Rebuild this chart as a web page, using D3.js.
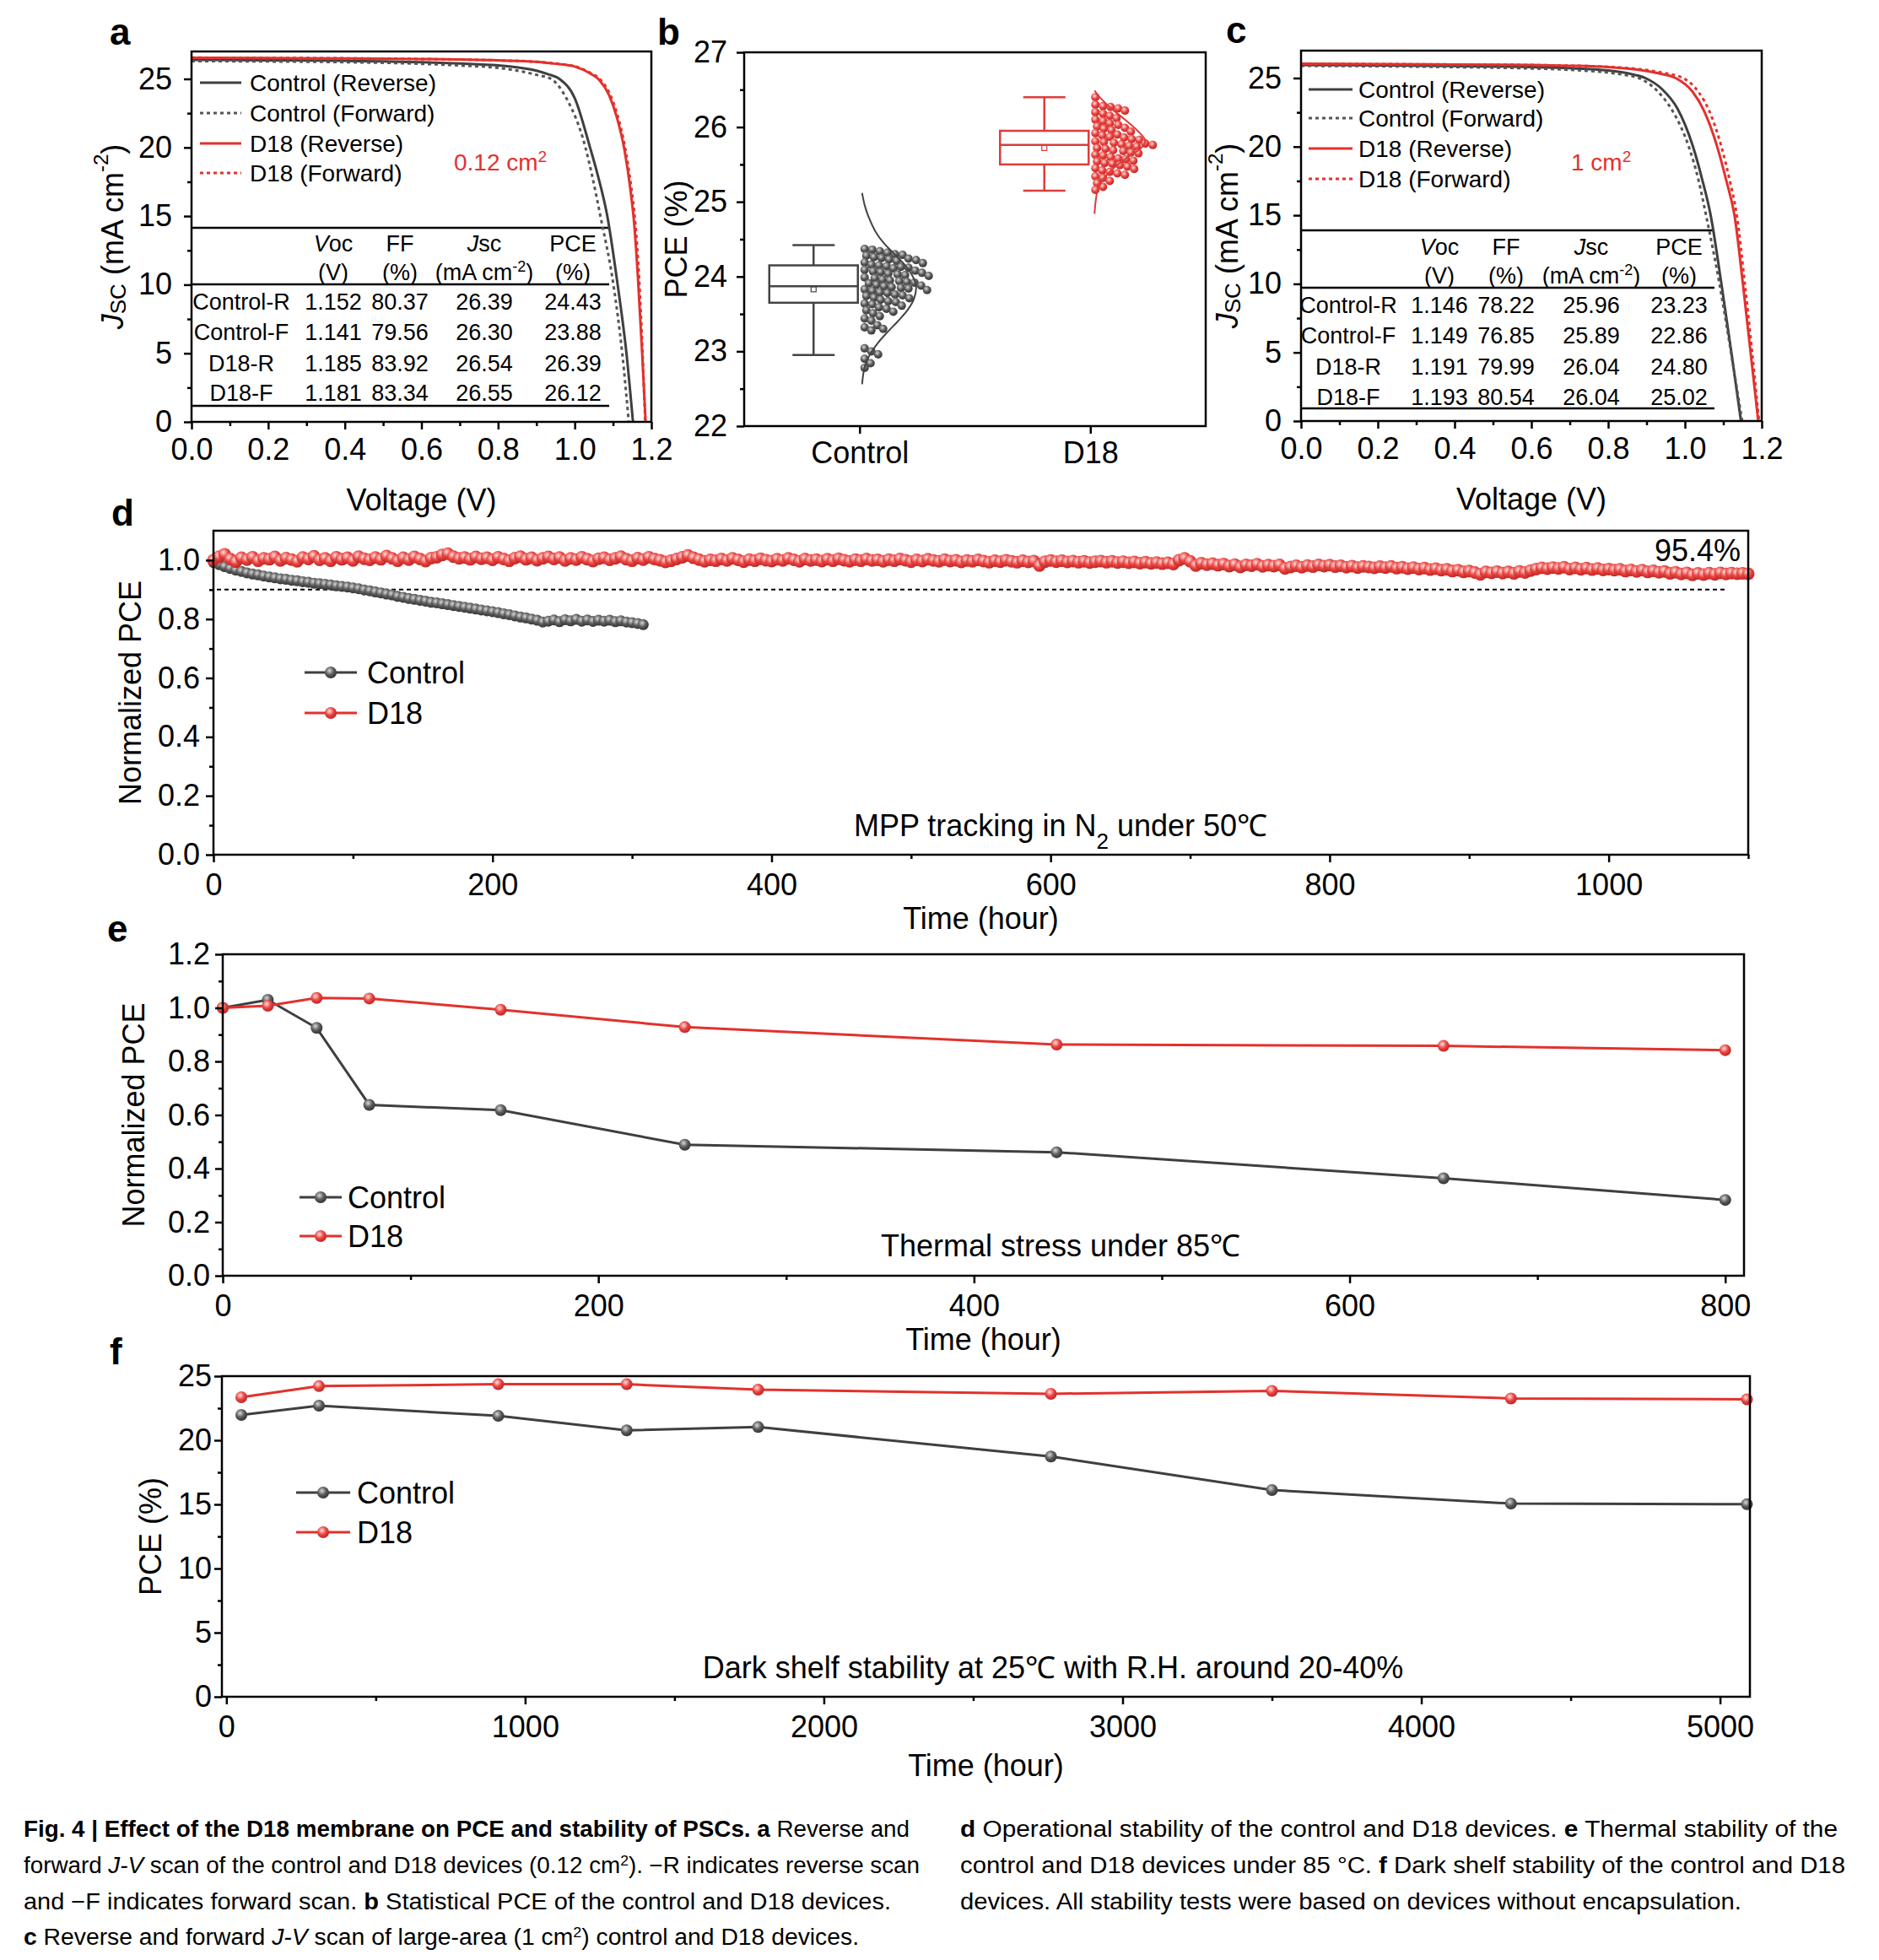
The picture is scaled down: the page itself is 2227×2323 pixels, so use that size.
<!DOCTYPE html>
<html>
<head>
<meta charset="utf-8">
<script src="https://cdn.jsdelivr.net/npm/d3@7"></script>
<style>
  body { margin: 0; background: #fff; }
  text { font-family: 'Liberation Sans', Arial, sans-serif; }
</style>
</head>
<body>
<svg id="fig" width="2227" height="2323"></svg>
<script>
// ---------- data ----------
// J-V curves, [voltage, current density]
var jvCtrlRevA = [[0,26.39],[0.2,26.36],[0.4,26.32],[0.6,26.22],[0.7,26.12],[0.8,25.98],[0.86,25.8],[0.9,25.6],[0.93,25.35],[0.96,25.0],[1.0,23.6],[1.04,20.0],[1.06,18.0],[1.085,15.0],[1.112,10.0],[1.135,5.0],[1.152,0]];
var jvCtrlFwdA = [[0,26.30],[0.2,26.27],[0.4,26.22],[0.6,26.1],[0.7,25.98],[0.8,25.8],[0.86,25.55],[0.9,25.3],[0.938,25.0],[0.98,23.5],[1.028,20.0],[1.045,18.0],[1.067,15.0],[1.101,10.0],[1.124,5.0],[1.141,0]];
var jvD18RevA = [[0,26.54],[0.2,26.52],[0.4,26.5],[0.6,26.45],[0.8,26.35],[0.9,26.25],[0.95,26.1],[1.0,25.9],[1.04,25.4],[1.065,24.9],[1.09,23.8],[1.11,22.2],[1.13,19.8],[1.145,17.0],[1.155,14.5],[1.165,10.5],[1.176,5.0],[1.185,0]];
var jvD18FwdA = [[0,26.55],[0.2,26.53],[0.4,26.5],[0.6,26.45],[0.8,26.35],[0.9,26.25],[0.95,26.12],[1.0,25.92],[1.04,25.45],[1.065,25.0],[1.09,24.0],[1.11,22.5],[1.13,20.2],[1.147,17.2],[1.158,14.5],[1.168,10.5],[1.177,5.0],[1.184,0]];

var jvCtrlRevC = [[0,25.96],[0.2,25.93],[0.4,25.88],[0.6,25.8],[0.7,25.72],[0.8,25.55],[0.85,25.35],[0.897,25.0],[0.94,24.2],[0.98,22.8],[1.021,20.0],[1.045,17.6],[1.067,15.0],[1.095,10.0],[1.121,5.0],[1.146,0]];
var jvCtrlFwdC = [[0,25.89],[0.2,25.86],[0.4,25.8],[0.6,25.7],[0.7,25.6],[0.8,25.4],[0.85,25.2],[0.88,25.0],[0.93,24.0],[0.97,22.5],[1.01,20.0],[1.035,17.6],[1.055,15.0],[1.09,10.0],[1.12,5.0],[1.149,0]];
var jvD18RevC = [[0,26.04],[0.2,26.02],[0.4,25.99],[0.6,25.95],[0.7,25.9],[0.8,25.8],[0.88,25.6],[0.93,25.35],[0.976,25.0],[1.02,24.0],[1.05,22.6],[1.084,20.0],[1.108,17.5],[1.129,15.0],[1.151,10.0],[1.171,5.0],[1.191,0]];
var jvD18FwdC = [[0,26.04],[0.2,26.02],[0.4,25.99],[0.6,25.95],[0.7,25.9],[0.8,25.82],[0.88,25.65],[0.94,25.4],[0.995,25.0],[1.035,24.0],[1.065,22.5],[1.095,20.0],[1.117,17.5],[1.135,15.0],[1.156,10.0],[1.175,5.0],[1.193,0]];

var jvLegend = ["Control (Reverse)", "Control (Forward)", "D18 (Reverse)", "D18 (Forward)"];
var tableLabels = ["Control-R", "Control-F", "D18-R", "D18-F"];
var tableA = [["1.152","80.37","26.39","24.43"],["1.141","79.56","26.30","23.88"],["1.185","83.92","26.54","26.39"],["1.181","83.34","26.55","26.12"]];
var tableC = [["1.146","78.22","25.96","23.23"],["1.149","76.85","25.89","22.86"],["1.191","79.99","26.04","24.80"],["1.193","80.54","26.04","25.02"]];

var jvXTicks = [0, 0.2, 0.4, 0.6, 0.8, 1.0, 1.2];
var jvXMinor = [0.1, 0.3, 0.5, 0.7, 0.9, 1.1];
var jvYTicks = [0, 5, 10, 15, 20, 25];
var jvYMinor = [2.5, 7.5, 12.5, 17.5, 22.5];

// panel b: device PCEs
var groups = ["Control", "D18"];
var pceCtrl = [24.37,24.36,24.34,24.32,24.30,
  24.29,24.28,24.26,24.25,24.24,24.23,24.22,24.21,
  24.19,24.18,24.16,24.15,24.14,24.13,24.12,24.11,
  24.09,24.08,24.07,24.06,24.05,24.04,24.03,24.02,24.01,
  23.99,23.98,23.96,23.95,23.94,23.93,23.92,23.91,
  23.89,23.88,23.87,23.86,23.85,23.84,23.83,23.82,23.81,
  23.79,23.78,23.76,23.75,23.74,23.72,23.71,
  23.69,23.67,23.66,23.64,23.63,23.61,
  23.59,23.57,23.55,23.53,23.51,
  23.47,23.44,23.41,23.35,23.32,23.30,23.28,
  23.04,23.00,22.96,22.90,22.84,22.78];
var pceD18 = [26.40,26.30,26.28,26.27,26.25,26.22,26.20,
  26.18,26.15,26.12,26.10,26.08,26.05,26.03,26.01,25.99,25.98,25.96,
  25.94,25.92,25.90,25.89,25.87,25.86,25.84,25.83,25.81,25.80,25.79,25.78,25.77,25.76,
  25.75,25.74,25.72,25.71,25.69,25.68,25.66,25.65,25.63,25.62,25.60,25.58,25.57,25.55,25.54,25.52,25.51,
  25.49,25.47,25.45,25.44,25.42,25.40,25.38,25.36,25.34,25.32,
  25.28,25.25,25.20,25.16];
// box: [lower whisker, Q1, median, Q3, upper whisker, mean]
var boxCtrl = [22.95, 23.65, 23.87, 24.15, 24.42, 23.83];
var boxD18 = [25.15, 25.50, 25.76, 25.95, 26.40, 25.72];
// distribution curves: [PCE, relative density]
var distCtrl = [[25.12,0],[24.95,0.05],[24.8,0.12],[24.6,0.25],[24.45,0.40],[24.3,0.60],[24.15,0.80],[24.0,0.94],[23.87,1.0],[23.7,0.96],[23.55,0.84],[23.4,0.66],[23.25,0.46],[23.1,0.28],[22.95,0.14],[22.8,0.05],[22.56,0]];
var distD18 = [[26.49,0],[26.4,0.1],[26.25,0.33],[26.1,0.6],[25.95,0.85],[25.82,1.0],[25.72,0.92],[25.6,0.66],[25.45,0.38],[25.3,0.17],[25.15,0.06],[24.84,0]];
var bYTicks = [22, 23, 24, 25, 26, 27];
var bYMinor = [22.5, 23.5, 24.5, 25.5, 26.5];

// panel d: MPP tracking, one reading every 4 h
var mppStep = 4;
var mppCtrl = [0.992,0.985,0.978,0.972,0.966,0.962,0.957,0.953,0.950,0.946,
  0.943,0.940,0.937,0.935,0.932,0.930,0.927,0.925,0.922,0.920,
  0.918,0.916,0.913,0.911,0.909,0.906,0.903,0.899,0.896,0.892,
  0.889,0.885,0.882,0.877,0.874,0.870,0.867,0.864,0.861,0.857,
  0.855,0.852,0.849,0.846,0.843,0.840,0.837,0.834,0.831,0.828,
  0.825,0.822,0.818,0.815,0.811,0.807,0.804,0.800,0.796,0.790,
  0.793,0.797,0.791,0.798,0.794,0.799,0.793,0.797,0.792,0.796,
  0.793,0.796,0.791,0.794,0.790,0.788,0.785,0.781];
var mppD18 = [1.000,1.012,1.020,1.004,0.995,1.008,1.002,1.010,0.998,1.006,
  1.003,1.011,0.999,1.007,1.002,0.996,1.009,1.004,1.013,1.001,
  1.006,0.998,1.010,1.003,1.008,0.999,1.012,1.005,1.001,1.009,
  1.003,1.014,1.006,0.998,1.008,1.002,1.011,1.004,0.997,1.007,
  1.010,1.018,1.022,1.012,1.006,1.009,1.003,1.011,1.005,1.008,
  1.001,1.010,1.004,0.998,1.007,1.012,1.003,1.008,1.000,1.006,
  1.011,1.004,1.009,0.999,1.006,1.002,1.010,1.003,0.997,1.005,
  1.008,1.001,1.006,1.012,1.003,0.998,1.007,1.002,1.010,1.004,
  1.000,0.994,0.998,1.004,1.010,1.016,1.008,1.002,0.996,1.001,
  0.998,1.004,0.999,1.006,1.001,0.995,1.002,0.998,1.005,1.000,
  0.997,1.003,0.999,1.006,1.001,0.996,1.004,0.999,1.002,0.997,
  1.003,0.998,1.005,1.000,0.996,1.002,0.998,1.004,0.999,1.001,
  0.996,1.002,0.998,1.004,1.000,0.995,1.001,0.997,1.003,0.999,
  0.996,1.002,0.997,1.000,0.994,0.999,0.996,1.001,0.997,0.993,
  0.998,0.995,1.000,0.996,0.993,0.998,0.994,0.997,0.982,0.995,
  0.999,0.995,0.998,0.994,0.997,0.993,0.996,0.992,0.995,0.997,
  0.993,0.996,0.992,0.995,0.991,0.994,0.990,0.993,0.989,0.992,
  0.988,0.991,0.987,1.000,1.006,0.996,0.982,0.990,0.985,0.988,
  0.983,0.987,0.980,0.985,0.977,0.984,0.981,0.986,0.979,0.983,
  0.980,0.984,0.972,0.977,0.981,0.976,0.982,0.978,0.984,0.980,
  0.983,0.978,0.981,0.976,0.980,0.975,0.979,0.977,0.974,0.978,
  0.975,0.979,0.973,0.976,0.971,0.975,0.970,0.973,0.968,0.971,
  0.966,0.969,0.963,0.966,0.960,0.963,0.958,0.952,0.960,0.957,
  0.961,0.956,0.960,0.955,0.962,0.958,0.965,0.970,0.974,0.971,
  0.975,0.972,0.976,0.970,0.974,0.969,0.973,0.968,0.972,0.967,
  0.970,0.966,0.969,0.963,0.967,0.962,0.966,0.960,0.964,0.959,
  0.962,0.955,0.959,0.953,0.957,0.950,0.955,0.951,0.956,0.952,
  0.957,0.953,0.956,0.954,0.955,0.954];
var dXTicks = [0, 200, 400, 600, 800, 1000];
var dXMinor = [100, 300, 500, 700, 900, 1100];
var dYTicks = [0, 0.2, 0.4, 0.6, 0.8, 1.0];
var dYMinor = [0.1, 0.3, 0.5, 0.7, 0.9];

// panel e: thermal stress at 85 C
var thermTime = [0, 24, 50, 78, 148, 246, 444, 650, 800];
var thermCtrl = [1.0, 1.03, 0.925, 0.638, 0.618, 0.489, 0.461, 0.364, 0.283];
var thermD18 = [1.0, 1.008, 1.037, 1.035, 0.993, 0.928, 0.863, 0.858, 0.842];
var eXTicks = [0, 200, 400, 600, 800];
var eXMinor = [100, 300, 500, 700];
var eYTicks = [0, 0.2, 0.4, 0.6, 0.8, 1.0, 1.2];
var eYMinor = [0.1, 0.3, 0.5, 0.7, 0.9, 1.1];

// panel f: dark shelf storage
var shelfTime = [50, 310, 910, 1340, 1780, 2760, 3500, 4300, 5090];
var shelfCtrl = [21.97, 22.7, 21.9, 20.77, 21.03, 18.73, 16.12, 15.06, 15.01];
var shelfD18 = [23.36, 24.22, 24.37, 24.37, 23.94, 23.62, 23.85, 23.26, 23.19];
var fXTicks = [0, 1000, 2000, 3000, 4000, 5000];
var fXMinor = [500, 1500, 2500, 3500, 4500];
var fYTicks = [0, 5, 10, 15, 20, 25];
var fYMinor = [2.5, 7.5, 12.5, 17.5, 22.5];

// ---------- drawing ----------
var GRAY = "#3f3f3f", GRAY2 = "#555", RED = "#e3312d";
var svg = d3.select("#fig");
var defs = svg.append("defs");

function sphere(id, light, mid, dark) {
  var gr = defs.append("radialGradient").attr("id", id)
    .attr("cx", "40%").attr("cy", "35%").attr("r", "70%");
  gr.append("stop").attr("offset", "0%").attr("stop-color", light);
  gr.append("stop").attr("offset", "50%").attr("stop-color", mid);
  gr.append("stop").attr("offset", "100%").attr("stop-color", dark);
}
sphere("gGray", "#d8d8d8", "#5c5c5c", "#2e2e2e");
sphere("gRed", "#ffe0e0", "#ea4541", "#b91f1f");

function drawAxes(x, y, o) {
  var g = svg.append("g");
  var xl = x.range()[0], xr = x.range()[1];
  var yb = y.range()[0], yt = y.range()[1];
  if (o.xMinor) g.append("g").attr("class", "minor").attr("transform", "translate(0," + yb + ")")
    .call(d3.axisBottom(x).tickValues(o.xMinor).tickSize(5).tickFormat(""));
  g.append("g").attr("transform", "translate(0," + yb + ")")
    .call(d3.axisBottom(x).tickValues(o.xMajor).tickSize(9).tickPadding(o.xPad).tickFormat(o.xFmt));
  if (o.yMinor) g.append("g").attr("class", "minor").attr("transform", "translate(" + xl + ",0)")
    .call(d3.axisLeft(y).tickValues(o.yMinor).tickSize(5).tickFormat(""));
  g.append("g").attr("transform", "translate(" + xl + ",0)")
    .call(d3.axisLeft(y).tickValues(o.yMajor).tickSize(9).tickPadding(o.yPad).tickFormat(o.yFmt));
  g.selectAll(".minor text").remove();
  g.selectAll(".domain").remove();
  g.selectAll(".tick line").attr("stroke", "#000").attr("stroke-width", 2.5);
  g.selectAll(".tick text").attr("font-size", 36).attr("fill", "#000")
    .attr("font-family", "'Liberation Sans', Arial, sans-serif");
  g.append("rect").attr("x", xl).attr("y", yt).attr("width", xr - xl).attr("height", yb - yt)
    .attr("fill", "none").attr("stroke", "#000").attr("stroke-width", 2.5);
}

function panelLabel(t, x, y) {
  svg.append("text").attr("x", x).attr("y", y).attr("font-size", 44)
    .attr("font-weight", "bold").text(t);
}

function yTitle(x, y) {
  return svg.append("text").attr("transform", "translate(" + x + "," + y + ") rotate(-90)")
    .attr("text-anchor", "middle").attr("dominant-baseline", "central").attr("font-size", 36);
}

function jsTitle(x, y) {
  var t = yTitle(x, y);
  t.append("tspan").attr("font-style", "italic").text("J");
  t.append("tspan").attr("font-size", 26).attr("baseline-shift", "-25%").text("SC");
  t.append("tspan").text(" (mA cm");
  t.append("tspan").attr("font-size", 24).attr("baseline-shift", "super").text("-2");
  t.append("tspan").text(")");
}

function jvPanel(P, curves, table, area, L) {
  var x = d3.scaleLinear().domain([0, 1.2]).range([P.l, P.r]);
  var y = d3.scaleLinear().domain([0, 27]).range([P.b, P.t]);
  var line = d3.line().x(function(d) { return x(d[0]); }).y(function(d) { return y(d[1]); })
    .curve(d3.curveMonotoneX);
  var g = svg.append("g");

  // table rules and text
  L.rules.forEach(function(r) {
    g.append("line").attr("x1", P.l).attr("x2", P.l + L.tableW)
      .attr("y1", P.t + r).attr("y2", P.t + r).attr("stroke", "#000").attr("stroke-width", 2.5);
  });
  var cols = L.cols;
  var heads = [["V", "oc"], ["", "FF"], ["J", "sc"], ["", "PCE"]];
  heads.forEach(function(h, i) {
    var t = g.append("text").attr("x", P.l + cols[i + 1]).attr("y", P.t + L.rows[0] + 10)
      .attr("text-anchor", "middle").attr("font-size", 27);
    if (h[0]) t.append("tspan").attr("font-style", "italic").text(h[0]);
    t.append("tspan").text(h[1]);
  });
  ["(V)", "(%)", null, "(%)"].forEach(function(u, i) {
    var t = g.append("text").attr("x", P.l + cols[i + 1]).attr("y", P.t + L.rows[1] + 10)
      .attr("text-anchor", "middle").attr("font-size", 27);
    if (u) t.text(u);
    else {
      t.append("tspan").text("(mA cm");
      t.append("tspan").attr("font-size", 18).attr("baseline-shift", "super").text("-2");
      t.append("tspan").text(")");
    }
  });
  table.forEach(function(row, j) {
    var yy = P.t + L.rows[j + 2] + 10;
    g.append("text").attr("x", P.l + cols[0]).attr("y", yy).attr("text-anchor", "middle")
      .attr("font-size", 27).text(tableLabels[j]);
    row.forEach(function(v, i) {
      g.append("text").attr("x", P.l + cols[i + 1]).attr("y", yy).attr("text-anchor", "middle")
        .attr("font-size", 27).text(v);
    });
  });

  // curves
  curves.forEach(function(c) {
    g.append("path").attr("d", line(c.data)).attr("fill", "none")
      .attr("stroke", c.color).attr("stroke-width", 3)
      .attr("stroke-dasharray", c.dash ? "4 4" : null);
  });

  // legend
  curves.forEach(function(c, i) {
    var yy = P.t + L.leg[i];
    g.append("line").attr("x1", P.l + L.legX[0]).attr("x2", P.l + L.legX[1])
      .attr("y1", yy).attr("y2", yy).attr("stroke", c.color).attr("stroke-width", 3)
      .attr("stroke-dasharray", c.dash ? "4 4" : null);
    g.append("text").attr("x", P.l + L.legX[2]).attr("y", yy + 10).attr("font-size", 28)
      .text(jvLegend[i]);
  });
  var at = g.append("text").attr("x", P.l + L.area[0]).attr("y", P.t + L.area[1] + 10)
    .attr("font-size", 28).attr("fill", RED);
  at.append("tspan").text(area + " cm");
  at.append("tspan").attr("font-size", 19).attr("baseline-shift", "super").text("2");

  drawAxes(x, y, { xMajor: jvXTicks, xMinor: jvXMinor, yMajor: jvYTicks, yMinor: jvYMinor,
    xFmt: d3.format(".1f"), yFmt: d3.format("d"), xPad: 10, yPad: 14 });
  svg.append("text").attr("x", (P.l + P.r) / 2).attr("y", P.b + 105).attr("text-anchor", "middle")
    .attr("font-size", 36).text("Voltage (V)");
}

// ---- panel a
var PA = { l: 227, r: 772, t: 61, b: 500 };
jvPanel(PA, [
  { data: jvCtrlRevA, color: GRAY, dash: false },
  { data: jvCtrlFwdA, color: GRAY2, dash: true },
  { data: jvD18RevA, color: RED, dash: false },
  { data: jvD18FwdA, color: RED, dash: true }
], tableA, "0.12", {
  rules: [209, 276, 420], tableW: 495,
  cols: [59, 168, 247, 347, 452],
  rows: [227, 261, 296, 332, 369, 404],
  leg: [37, 73, 109, 144], legX: [10, 59, 69],
  area: [311, 131]
});
panelLabel("a", 130, 53);
jsTitle(133, (PA.t + PA.b) / 2);

// ---- panel c
var PC = { l: 1542, r: 2088, t: 60, b: 499 };
jvPanel(PC, [
  { data: jvCtrlRevC, color: GRAY, dash: false },
  { data: jvCtrlFwdC, color: GRAY2, dash: true },
  { data: jvD18RevC, color: RED, dash: false },
  { data: jvD18FwdC, color: RED, dash: true }
], tableC, "1", {
  rules: [213, 281, 424], tableW: 490,
  cols: [56, 164, 243, 344, 448],
  rows: [232, 266, 301, 337, 374, 410],
  leg: [46, 80, 116, 152], legX: [9, 61, 68],
  area: [320, 132]
});
panelLabel("c", 1453, 51);
jsTitle(1454, (PC.t + PC.b) / 2);

// ---- panel b
var PB = { l: 882, r: 1429, t: 62, b: 505 };
(function() {
  var x = d3.scalePoint().domain(groups).range([PB.l, PB.r]).padding(0.5);
  var y = d3.scaleLinear().domain([22, 27]).range([PB.b, PB.t]);
  var g = svg.append("g");
  var specs = [
    { name: "Control", vals: pceCtrl, box: boxCtrl, dist: distCtrl, color: "#444", fill: "url(#gGray)", base: 3, w: 64 },
    { name: "D18", vals: pceD18, box: boxD18, dist: distD18, color: "#dd3b3b", fill: "url(#gRed)", base: 5, w: 60 }
  ];
  specs.forEach(function(s) {
    var cx = x(s.name);
    var bl = cx - 107, br = cx - 2, bc = (bl + br) / 2;
    var b = s.box;
    // whiskers
    g.append("line").attr("x1", bc).attr("x2", bc).attr("y1", y(b[0])).attr("y2", y(b[1]))
      .attr("stroke", s.color).attr("stroke-width", 2.5);
    g.append("line").attr("x1", bc).attr("x2", bc).attr("y1", y(b[3])).attr("y2", y(b[4]))
      .attr("stroke", s.color).attr("stroke-width", 2.5);
    [b[0], b[4]].forEach(function(v) {
      g.append("line").attr("x1", bc - 25).attr("x2", bc + 25).attr("y1", y(v)).attr("y2", y(v))
        .attr("stroke", s.color).attr("stroke-width", 2.5);
    });
    g.append("rect").attr("x", bl).attr("y", y(b[3])).attr("width", br - bl)
      .attr("height", y(b[1]) - y(b[3])).attr("fill", "none").attr("stroke", s.color).attr("stroke-width", 2.5);
    g.append("line").attr("x1", bl).attr("x2", br).attr("y1", y(b[2])).attr("y2", y(b[2]))
      .attr("stroke", s.color).attr("stroke-width", 2.5);
    g.append("rect").attr("x", bc - 3).attr("y", y(b[5]) - 3).attr("width", 6).attr("height", 6)
      .attr("fill", "none").attr("stroke", s.color).attr("stroke-width", 1.2);

    // swarm of device points (packed next to the axis tick, overlapping a little)
    var r = 5, gap = 8.2, placed = [];
    s.vals.slice().sort(function(a, c) { return c - a; }).forEach(function(v) {
      var py = y(v), dx = 0;
      while (placed.some(function(p) { return (p.x - dx) * (p.x - dx) + (p.y - py) * (p.y - py) < gap * gap; })) dx += 1;
      placed.push({ x: dx, y: py });
    });
    g.selectAll(null).data(placed).enter().append("circle")
      .attr("cx", function(p) { return cx + r + 1 + p.x; })
      .attr("cy", function(p) { return p.y; })
      .attr("r", r).attr("fill", s.fill);

    // distribution curve
    var dl = d3.line().x(function(d) { return cx + s.base + d[1] * s.w; })
      .y(function(d) { return y(d[0]); }).curve(d3.curveCatmullRom);
    g.append("path").attr("d", dl(s.dist)).attr("fill", "none").attr("stroke", s.color).attr("stroke-width", 2);
  });

  drawAxes(x, y, { xMajor: groups, yMajor: bYTicks, yMinor: bYMinor,
    xFmt: function(d) { return d; }, yFmt: d3.format("d"), xPad: 9, yPad: 11 });
  yTitle(801, (PB.t + PB.b) / 2).text("PCE (%)");
  panelLabel("b", 779, 53);
})();

// legend with line + sphere marker
function markerLegend(items, x0, x1, tx, ys, r) {
  items.forEach(function(it, i) {
    svg.append("line").attr("x1", x0).attr("x2", x1).attr("y1", ys[i]).attr("y2", ys[i])
      .attr("stroke", it.color).attr("stroke-width", 3);
    svg.append("circle").attr("cx", (x0 + x1) / 2).attr("cy", ys[i]).attr("r", r).attr("fill", it.fill);
    svg.append("text").attr("x", tx).attr("y", ys[i] + 13).attr("font-size", 36).text(it.name);
  });
}
var legItems = [
  { name: "Control", color: GRAY, fill: "url(#gGray)" },
  { name: "D18", color: RED, fill: "url(#gRed)" }
];

// ---- panel d
var PD = { l: 253, r: 2072, t: 629, b: 1013 };
(function() {
  var x = d3.scaleLinear().domain([0, 1100]).range([PD.l, PD.r]);
  var y = d3.scaleLinear().domain([0, 1.1]).range([PD.b, PD.t]);
  var g = svg.append("g");
  g.append("line").attr("x1", x(0) + 4).attr("x2", x(1085)).attr("y1", y(0.9)).attr("y2", y(0.9))
    .attr("stroke", "#000").attr("stroke-width", 2).attr("stroke-dasharray", "5 4");
  [{ vals: mppCtrl, color: GRAY, fill: "url(#gGray)", r: 6.5 },
   { vals: mppD18, color: RED, fill: "url(#gRed)", r: 7.5 }].forEach(function(s) {
    var pts = s.vals.map(function(v, i) { return [i * mppStep, v]; });
    g.append("path").attr("d", d3.line().x(function(d) { return x(d[0]); }).y(function(d) { return y(d[1]); })(pts))
      .attr("fill", "none").attr("stroke", s.color).attr("stroke-width", 2);
    g.selectAll(null).data(pts).enter().append("circle")
      .attr("cx", function(d) { return x(d[0]); }).attr("cy", function(d) { return y(d[1]); })
      .attr("r", s.r).attr("fill", s.fill);
  });
  drawAxes(x, y, { xMajor: dXTicks, xMinor: dXMinor, yMajor: dYTicks, yMinor: dYMinor,
    xFmt: d3.format("d"), yFmt: d3.format(".1f"), xPad: 13, yPad: 7 });
  svg.append("text").attr("x", 2063).attr("y", 665).attr("text-anchor", "end").attr("font-size", 36).text("95.4%");
  var t = svg.append("text").attr("x", 1257).attr("y", 991).attr("text-anchor", "middle").attr("font-size", 36);
  t.append("tspan").text("MPP tracking in N");
  t.append("tspan").attr("font-size", 26).attr("baseline-shift", "sub").text("2");
  t.append("tspan").text(" under 50\u2103");
  markerLegend(legItems, 361, 423, 435, [797, 845], 7);
  svg.append("text").attr("x", (PD.l + PD.r) / 2).attr("y", 1101).attr("text-anchor", "middle")
    .attr("font-size", 36).text("Time (hour)");
  yTitle(154, (PD.t + PD.b) / 2).text("Normalized PCE");
  panelLabel("d", 132, 623);
})();

// ---- panels e, f
function trendPanel(P, xDom, yDom, time, a, b, o) {
  var x = d3.scaleLinear().domain(xDom).range([P.l, P.r]);
  var y = d3.scaleLinear().domain(yDom).range([P.b, P.t]);
  var g = svg.append("g");
  [{ vals: a, color: GRAY, fill: "url(#gGray)" }, { vals: b, color: RED, fill: "url(#gRed)" }].forEach(function(s) {
    var pts = time.map(function(t, i) { return [t, s.vals[i]]; });
    g.append("path").attr("d", d3.line().x(function(d) { return x(d[0]); }).y(function(d) { return y(d[1]); })(pts))
      .attr("fill", "none").attr("stroke", s.color).attr("stroke-width", 3);
    g.selectAll(null).data(pts).enter().append("circle")
      .attr("cx", function(d) { return x(d[0]); }).attr("cy", function(d) { return y(d[1]); })
      .attr("r", 7).attr("fill", s.fill);
  });
  drawAxes(x, y, o);
}

var PE = { l: 264, r: 2067, t: 1131, b: 1512 };
trendPanel(PE, [0, 810], [0, 1.2], thermTime, thermCtrl, thermD18,
  { xMajor: eXTicks, xMinor: eXMinor, yMajor: eYTicks, yMinor: eYMinor,
    xFmt: d3.format("d"), yFmt: d3.format(".1f"), xPad: 13, yPad: 6 });
markerLegend(legItems, 355, 405, 412, [1419, 1465], 7);
svg.append("text").attr("x", 1257).attr("y", 1489).attr("text-anchor", "middle").attr("font-size", 36)
  .text("Thermal stress under 85\u2103");
svg.append("text").attr("x", (PE.l + PE.r) / 2).attr("y", 1600).attr("text-anchor", "middle")
  .attr("font-size", 36).text("Time (hour)");
yTitle(158, (PE.t + PE.b) / 2).text("Normalized PCE");
panelLabel("e", 127, 1116);

var PF = { l: 263, r: 2074, t: 1631, b: 2011 };
trendPanel(PF, [-15, 5100], [0, 25], shelfTime, shelfCtrl, shelfD18,
  { xMajor: fXTicks, xMinor: fXMinor, yMajor: fYTicks, yMinor: fYMinor,
    xFmt: d3.format("d"), yFmt: d3.format("d"), xPad: 13, yPad: 3 });
markerLegend(legItems, 351, 415, 423, [1769, 1816], 7);
svg.append("text").attr("x", 1248).attr("y", 1989).attr("text-anchor", "middle").attr("font-size", 36)
  .text("Dark shelf stability at 25\u2103 with R.H. around 20-40%");
svg.append("text").attr("x", (PF.l + PF.r) / 2).attr("y", 2105).attr("text-anchor", "middle")
  .attr("font-size", 36).text("Time (hour)");
yTitle(178, (PF.t + PF.b) / 2).text("PCE (%)");
panelLabel("f", 130, 1617);

// ---------- caption ----------
var capFont = "'Liberation Sans Narrow', 'DejaVu Sans Condensed', 'Liberation Sans', sans-serif";
function capLine(x, y, len, parts) {
  var t = svg.append("text").attr("x", x).attr("y", y).attr("font-size", 27)
    .attr("font-family", capFont).attr("textLength", len).attr("lengthAdjust", "spacingAndGlyphs");
  parts.forEach(function(p) {
    var s = t.append("tspan").text(p[0]);
    if (p[1] === "b") s.attr("font-weight", "bold");
    if (p[1] === "i") s.attr("font-style", "italic");
    if (p[1] === "sup") s.attr("font-size", 17).attr("dy", -9);
    if (p[1] === "after") s.attr("dy", 9);
  });
}
capLine(28, 2177, 1050, [["Fig. 4 | Effect of the D18 membrane on PCE and stability of PSCs. a", "b"], [" Reverse and"]]);
capLine(28, 2220, 1062, [["forward "], ["J-V", "i"], [" scan of the control and D18 devices (0.12 cm"], ["2", "sup"], ["). \u2212R indicates reverse scan", "after"]]);
capLine(28, 2263, 1028, [["and \u2212F indicates forward scan. "], ["b", "b"], [" Statistical PCE of the control and D18 devices."]]);
capLine(28, 2305, 990, [["c", "b"], [" Reverse and forward "], ["J-V", "i"], [" scan of large-area (1 cm"], ["2", "sup"], [") control and D18 devices.", "after"]]);
capLine(1138, 2177, 1040, [["d", "b"], [" Operational stability of the control and D18 devices. "], ["e", "b"], [" Thermal stability of the"]]);
capLine(1138, 2220, 1049, [["control and D18 devices under 85 \u00b0C. "], ["f", "b"], [" Dark shelf stability of the control and D18"]]);
capLine(1138, 2263, 926, [["devices. All stability tests were based on devices without encapsulation."]]);
</script>
</body>
</html>
